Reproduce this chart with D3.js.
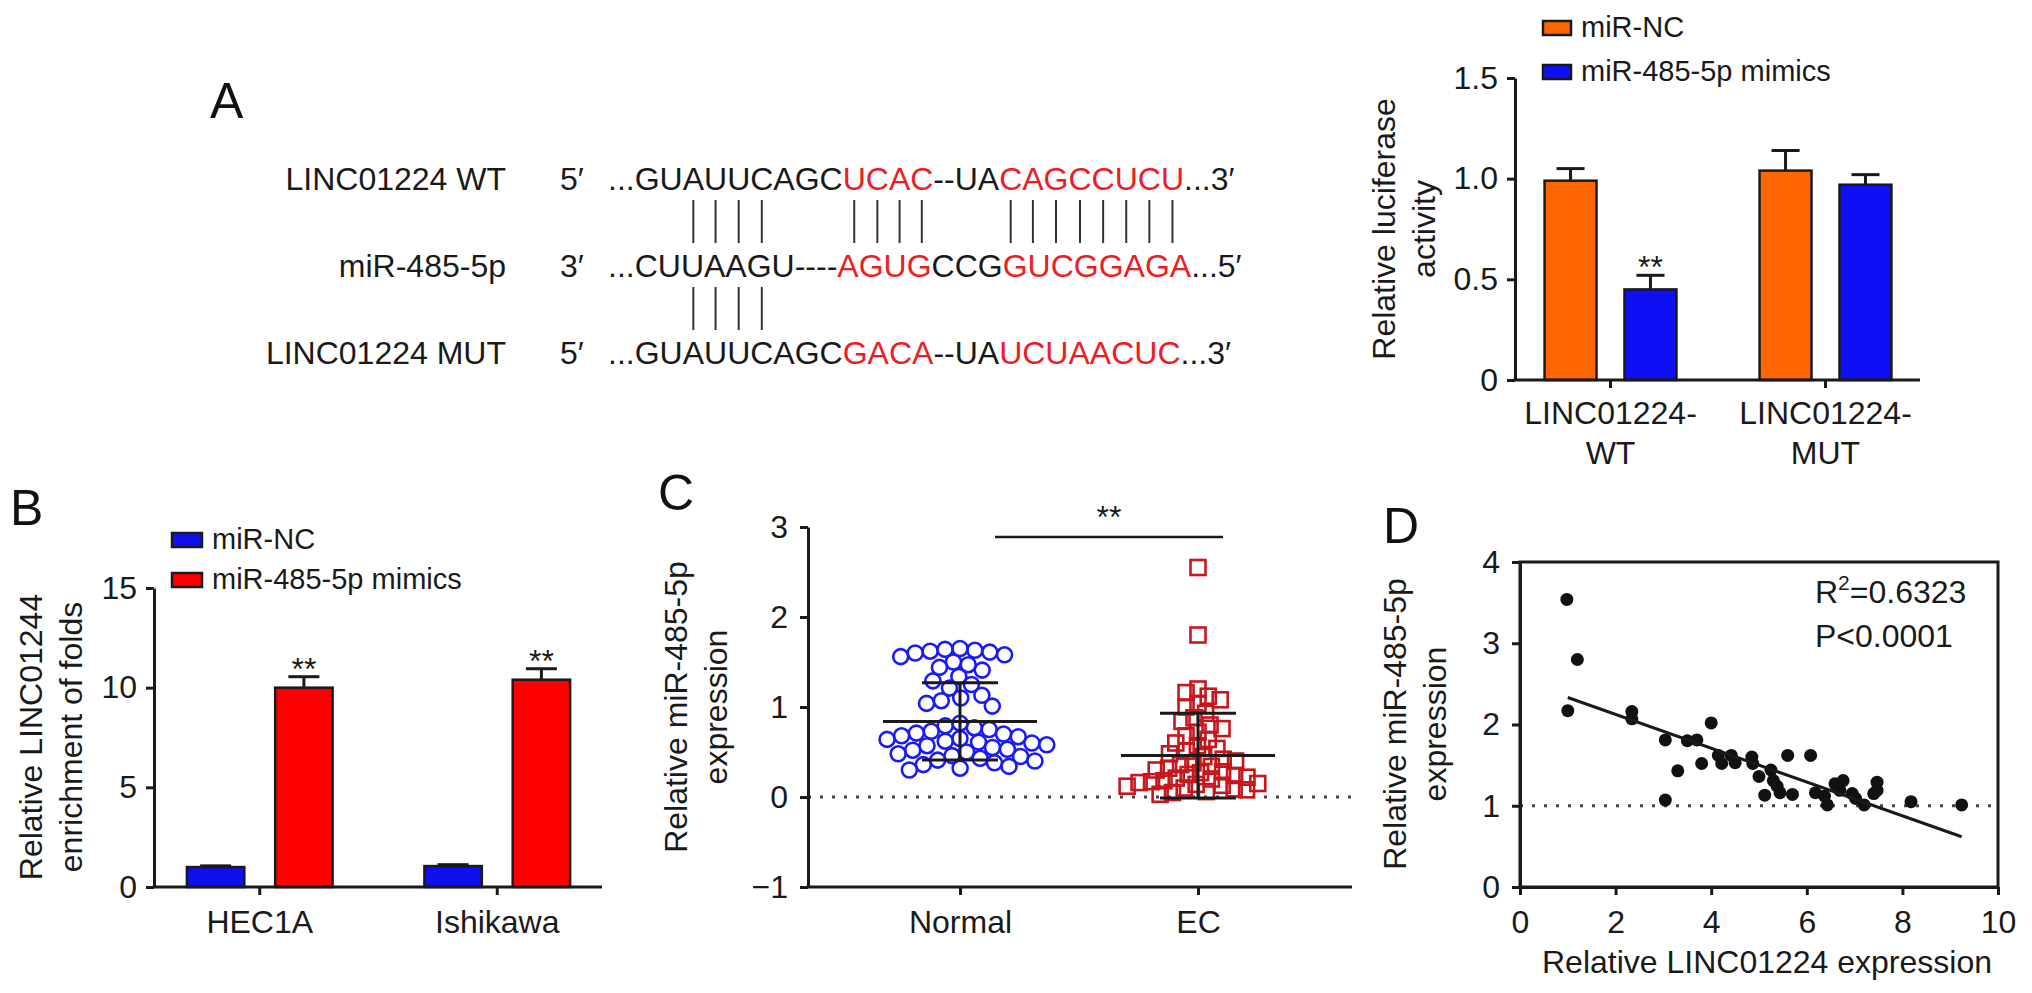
<!DOCTYPE html>
<html lang="en">
<head>
<meta charset="UTF-8" />
<title>LINC01224 / miR-485-5p</title>
<script src="https://cdn.jsdelivr.net/npm/d3@7"></script>
<style>
  body { margin: 0; background: #fff; }
  svg { display: block; font-family: "Liberation Sans", Arial, Helvetica, sans-serif; }
  .axis { font-family: "Liberation Sans", Arial, Helvetica, sans-serif; }
  .axis path, .axis line { stroke: #1a1a1a; stroke-width: 3; }
  .axis text { font-size: 32px; fill: #1a1a1a; }
  .txt { font-size: 32px; fill: #1a1a1a; }
  .leg { font-size: 29px; fill: #1a1a1a; }
  .panel { font-size: 50px; fill: #111; }
  .axline { stroke: #1a1a1a; stroke-width: 3; }
</style>
</head>
<body>
<svg id="fig" width="2032" height="993"></svg>
<script>
// ---------- data ----------
// A: sequence alignment
const seqLabels = ["LINC01224 WT", "miR-485-5p", "LINC01224 MUT"];
const seqEnds = ["5′", "3′", "5′"];
const seqParts = [
  [["...GUAUUCAGC", 0], ["UCAC", 1], ["--UA", 0], ["CAGCCUCU", 1], ["...3′", 0]],
  [["...CUUAAGU----", 0], ["AGUG", 1], ["CCG", 0], ["GUCGGAGA", 1], ["...5′", 0]],
  [["...GUAUUCAGC", 0], ["GACA", 1], ["--UA", 0], ["UCUAACUC", 1], ["...3′", 0]]
];
// character indices of row 1 that get a pairing bar
const pairsTop = [5, 6, 7, 8, 12, 13, 14, 15, 20, 21, 22, 23, 24, 25, 26, 27];
const pairsBottom = [5, 6, 7, 8];

// A: luciferase
const luciGroups = ["LINC01224-WT", "LINC01224-MUT"];
const luciSeries = ["miR-NC", "miR-485-5p mimics"];
const luciMean = [[0.99, 0.45], [1.04, 0.97]];
const luciErr = [[0.06, 0.07], [0.10, 0.05]];
const luciSig = [["", "**"], ["", ""]];
const luciTicks = [0, 0.5, 1.0, 1.5];

// B: RIP enrichment
const ripGroups = ["HEC1A", "Ishikawa"];
const ripSeries = ["miR-NC", "miR-485-5p mimics"];
const ripMean = [[1.0, 10.0], [1.05, 10.4]];
const ripErr = [[0.06, 0.55], [0.07, 0.55]];
const ripSig = [["", "**"], ["", "**"]];
const ripTicks = [0, 5, 10, 15];

// C: miR-485-5p expression
const exprGroups = ["Normal", "EC"];
const exprNormal = [1.65, 1.64, 1.63, 1.62, 1.61, 1.60, 1.58, 1.56,
  1.50, 1.47, 1.44, 1.41, 1.34, 1.29, 1.25, 1.21,
  1.13, 1.10, 1.07, 1.04, 1.01,
  0.82, 0.79, 0.77, 0.75, 0.73, 0.71, 0.70, 0.68, 0.67, 0.65, 0.64, 0.62, 0.61, 0.60,
  0.58, 0.57, 0.55, 0.53, 0.52, 0.50, 0.48, 0.46, 0.45, 0.43, 0.41, 0.40, 0.38, 0.36,
  0.34, 0.32, 0.30];
const exprEC = [2.55, 1.80, 1.20, 1.16, 1.12, 1.08, 1.04, 1.00,
  0.93, 0.88, 0.84, 0.80, 0.76, 0.72, 0.68, 0.64, 0.60, 0.57, 0.54, 0.51,
  0.48, 0.45, 0.42, 0.40, 0.38, 0.36, 0.34, 0.32, 0.30, 0.28, 0.27, 0.25,
  0.24, 0.22, 0.21, 0.20, 0.18, 0.17, 0.16, 0.15, 0.14, 0.13, 0.12, 0.10,
  0.09, 0.08, 0.06, 0.05, 0.03];
const exprMean = [0.84, 0.46];
const exprSD = [0.43, 0.47];
const exprTicks = [-1, 0, 1, 2, 3];

// D: correlation
const corrPoints = [
  [0.98, 3.54], [1.2, 2.8], [1.0, 2.17], [2.34, 2.16], [2.34, 2.07], [3.04, 1.81],
  [3.04, 1.07], [3.3, 1.43], [3.5, 1.8], [3.7, 1.81], [3.8, 1.52], [4.0, 2.02],
  [4.15, 1.62], [4.22, 1.52], [4.42, 1.62], [4.5, 1.53], [4.85, 1.6], [4.87, 1.52],
  [5.0, 1.36], [5.12, 1.13], [5.25, 1.44], [5.3, 1.31], [5.38, 1.24], [5.44, 1.16],
  [5.6, 1.62], [5.7, 1.14], [6.08, 1.62], [6.18, 1.16], [6.37, 1.12], [6.43, 1.01],
  [6.59, 1.27], [6.69, 1.19], [6.76, 1.31], [6.95, 1.15], [7.02, 1.09], [7.2, 1.01],
  [7.4, 1.15], [7.47, 1.29], [7.47, 1.19], [8.18, 1.05], [9.24, 1.01]
];
const corrFit = { intercept: 2.54, slope: -0.208, from: 1.0, to: 9.24 };
const corrXTicks = [0, 2, 4, 6, 8, 10];
const corrYTicks = [0, 1, 2, 3, 4];
const corrStats = ["0.6323", "P<0.0001"];

// ---------- drawing ----------
const svg = d3.select("#fig");
const RED = "#ee1c24";
const intFmt = d3.format("d");

function panelLetter(t, x, y) {
  svg.append("text").attr("class", "panel").attr("x", x).attr("y", y).text(t);
}

// rotated two-line axis title, first baseline at x0
function yTitle(lines, x0, cy) {
  const t = svg.append("text").attr("class", "txt")
    .attr("text-anchor", "middle")
    .attr("transform", `translate(${x0},${cy}) rotate(-90)`);
  lines.forEach((l, i) => t.append("tspan").attr("x", 0).attr("y", i * 40).text(l));
}

// ----- Panel A: sequences -----
panelLetter("A", 210, 118);
const rowY = [190, 277, 364];
const seqNodes = seqParts.map((parts, r) => {
  svg.append("text").attr("class", "txt").attr("text-anchor", "end")
    .attr("x", 506).attr("y", rowY[r]).text(seqLabels[r]);
  svg.append("text").attr("class", "txt").attr("x", 560).attr("y", rowY[r]).text(seqEnds[r]);
  const t = svg.append("text").attr("class", "txt").attr("x", 608).attr("y", rowY[r]);
  parts.forEach(([s, hi]) => t.append("tspan").attr("fill", hi ? RED : "#1a1a1a").text(s));
  return t.node();
});
function charCenter(node, i) {
  const b = node.getExtentOfChar(i);
  return b.x + b.width / 2;
}
pairsTop.forEach(i => {
  const cx = charCenter(seqNodes[0], i);
  svg.append("line").attr("x1", cx).attr("x2", cx).attr("y1", 200).attr("y2", 243)
    .attr("stroke", "#333").attr("stroke-width", 2);
});
pairsBottom.forEach(i => {
  const cx = charCenter(seqNodes[0], i);
  svg.append("line").attr("x1", cx).attr("x2", cx).attr("y1", 287).attr("y2", 330)
    .attr("stroke", "#333").attr("stroke-width", 2);
});

// ----- grouped bar chart helper (A right, B) -----
function barPanel(o) {
  const g = svg.append("g");
  const y = d3.scaleLinear().domain([0, d3.max(o.ticks)]).range([o.yRange[0], o.yRange[1]]);
  const x0 = d3.scaleBand().domain(o.groups).range(o.band);
  const x1 = d3.scaleBand().domain(o.series).range([0, x0.bandwidth()])
    .paddingInner(0.35).paddingOuter(0.52);
  const bw = x1.bandwidth();

  o.groups.forEach((gr, i) => {
    o.series.forEach((s, j) => {
      const bx = x0(gr) + x1(s), cx = bx + bw / 2;
      const m = o.mean[i][j], e = o.err[i][j];
      g.append("line").attr("x1", cx).attr("x2", cx).attr("y1", y(m)).attr("y2", y(m + e))
        .attr("stroke", "#1a1a1a").attr("stroke-width", 3);
      g.append("line").attr("x1", cx - bw * 0.27).attr("x2", cx + bw * 0.27)
        .attr("y1", y(m + e)).attr("y2", y(m + e))
        .attr("stroke", "#1a1a1a").attr("stroke-width", 3);
      g.append("rect").attr("x", bx).attr("y", y(m)).attr("width", bw).attr("height", y(0) - y(m))
        .attr("fill", o.colors[j]).attr("stroke", "#1a1a1a").attr("stroke-width", 2.5);
      if (o.sig[i][j]) {
        g.append("text").attr("class", "txt").attr("text-anchor", "middle")
          .attr("x", cx).attr("y", y(m + e) + 3).text(o.sig[i][j]);
      }
    });
  });

  g.append("g").attr("class", "axis").attr("transform", `translate(${o.xLine[0]},0)`)
    .call(d3.axisLeft(y).tickValues(o.ticks).tickFormat(o.fmt)
      .tickSize(8).tickSizeOuter(0).tickPadding(9));
  const xa = g.append("g").attr("class", "axis").attr("transform", `translate(0,${y(0)})`)
    .call(d3.axisBottom(x0).tickSize(8).tickSizeOuter(0).tickPadding(o.xPad));
  xa.select(".domain").remove();
  g.append("line").attr("class", "axline")
    .attr("x1", o.xLine[0] - 1.5).attr("x2", o.xLine[1]).attr("y1", y(0)).attr("y2", y(0));
  if (o.splitLabels) {
    xa.selectAll(".tick text").each(function (d) {
      const t = d3.select(this).text("");
      d.split(/(?<=-)/).forEach((p, k) =>
        t.append("tspan").attr("x", 0).attr("dy", k ? "1.25em" : null).text(p));
    });
  }

  // legend
  o.series.forEach((s, j) => {
    const ly = o.legend.y + j * o.legend.step;
    g.append("rect").attr("x", o.legend.x).attr("y", ly - o.legend.h)
      .attr("width", o.legend.w).attr("height", o.legend.h)
      .attr("fill", o.colors[j]).attr("stroke", "#1a1a1a").attr("stroke-width", 2.5);
    g.append("text").attr("class", "leg").attr("x", o.legend.x + o.legend.w + 10)
      .attr("y", ly + 2).text(s);
  });
}

barPanel({
  groups: luciGroups, series: luciSeries, mean: luciMean, err: luciErr, sig: luciSig,
  ticks: luciTicks, fmt: d => d === 0 ? "0" : d3.format(".1f")(d),
  colors: ["#ff6600", "#0f0ff5"],
  yRange: [380, 78], band: [1503, 1933], xLine: [1515, 1920], xPad: 13, splitLabels: true,
  legend: { x: 1543, y: 35, step: 44, w: 28, h: 14 }
});
yTitle(["Relative luciferase", "activity"], 1395, 229);

// ----- Panel B -----
panelLetter("B", 10, 525);
barPanel({
  groups: ripGroups, series: ripSeries, mean: ripMean, err: ripErr, sig: ripSig,
  ticks: ripTicks, fmt: intFmt,
  colors: ["#1010ee", "#ff0000"],
  yRange: [887, 588], band: [141, 616], xLine: [154, 602], xPad: 15, splitLabels: false,
  legend: { x: 172, y: 547, step: 40, w: 30, h: 14 }
});
yTitle(["Relative LINC01244", "enrichment of folds"], 42, 737);

// ----- Panel C -----
panelLetter("C", 658, 510);
{
  const g = svg.append("g");
  const y = d3.scaleLinear().domain([-1, 3]).range([887, 527]);
  const x = d3.scalePoint().domain(exprGroups).range([960, 1198]);
  const axX = [808, 1352];

  g.append("line").attr("x1", axX[0]).attr("x2", axX[1]).attr("y1", y(0)).attr("y2", y(0))
    .attr("stroke", "#444").attr("stroke-width", 3).attr("stroke-dasharray", "3 9");

  // simple beeswarm: each point takes the nearest free horizontal offset
  function swarm(values, minDist) {
    const pts = values.map(v => ({ v, py: y(v), dx: 0 })).sort((a, b) => a.py - b.py);
    const placed = [];
    pts.forEach(p => {
      const blocked = [];
      placed.forEach(q => {
        const dy = Math.abs(q.py - p.py);
        if (dy < minDist) {
          const w = Math.sqrt(minDist * minDist - dy * dy);
          blocked.push([q.dx - w, q.dx + w]);
        }
      });
      const cands = [0];
      blocked.forEach(b => cands.push(b[0], b[1]));
      cands.sort((a, b) => Math.abs(a) - Math.abs(b));
      p.dx = cands.find(c => blocked.every(b => c <= b[0] + 1e-6 || c >= b[1] - 1e-6));
      placed.push(p);
    });
    return pts;
  }

  swarm(exprNormal, 15).forEach(p => {
    g.append("circle").attr("cx", x("Normal") + p.dx).attr("cy", p.py).attr("r", 7.5)
      .attr("fill", "none").attr("stroke", "#1a1aff").attr("stroke-width", 2.6);
  });
  swarm(exprEC, 12.5).forEach(p => {
    g.append("rect").attr("x", x("EC") + p.dx - 7.5).attr("y", p.py - 7.5)
      .attr("width", 15).attr("height", 15)
      .attr("fill", "none").attr("stroke", "#c8161d").attr("stroke-width", 2.6);
  });

  exprGroups.forEach((gr, i) => {
    const cx = x(gr), m = exprMean[i], s = exprSD[i];
    const ln = (x1, x2, y1, y2) => g.append("line").attr("x1", x1).attr("x2", x2)
      .attr("y1", y1).attr("y2", y2).attr("stroke", "#1a1a1a").attr("stroke-width", 3);
    ln(cx - 77, cx + 77, y(m), y(m));
    ln(cx, cx, y(m - s), y(m + s));
    ln(cx - 38, cx + 38, y(m + s), y(m + s));
    ln(cx - 38, cx + 38, y(m - s), y(m - s));
  });

  g.append("g").attr("class", "axis").attr("transform", `translate(${axX[0]},0)`)
    .call(d3.axisLeft(y).tickValues(exprTicks).tickFormat(intFmt)
      .tickSize(8).tickSizeOuter(0).tickPadding(12));
  const xa = g.append("g").attr("class", "axis").attr("transform", `translate(0,${y(-1)})`)
    .call(d3.axisBottom(x).tickSize(8).tickSizeOuter(0).tickPadding(15));
  xa.select(".domain").remove();
  g.append("line").attr("class", "axline").attr("x1", axX[0] - 1.5).attr("x2", axX[1])
    .attr("y1", y(-1)).attr("y2", y(-1));

  // significance bracket
  g.append("line").attr("x1", 995).attr("x2", 1223).attr("y1", 537).attr("y2", 537)
    .attr("stroke", "#1a1a1a").attr("stroke-width", 2.5);
  g.append("text").attr("class", "txt").attr("text-anchor", "middle")
    .attr("x", 1109).attr("y", 528).text("**");
}
yTitle(["Relative miR-485-5p", "expression"], 687, 707);

// ----- Panel D -----
panelLetter("D", 1383, 543);
{
  const g = svg.append("g");
  const x = d3.scaleLinear().domain([0, 10]).range([1520, 1998]);
  const y = d3.scaleLinear().domain([0, 4]).range([887, 562]);

  g.append("rect").attr("x", x(0)).attr("y", y(4)).attr("width", x(10) - x(0))
    .attr("height", y(0) - y(4)).attr("fill", "none").attr("stroke", "#1a1a1a").attr("stroke-width", 3);
  g.append("line").attr("x1", x(0)).attr("x2", x(10)).attr("y1", y(1)).attr("y2", y(1))
    .attr("stroke", "#444").attr("stroke-width", 3).attr("stroke-dasharray", "3 9");

  g.selectAll("circle.pt").data(corrPoints).enter().append("circle")
    .attr("class", "pt").attr("cx", d => x(d[0])).attr("cy", d => y(d[1])).attr("r", 6.5)
    .attr("fill", "#111");

  const fx = [corrFit.from, corrFit.to];
  g.append("line")
    .attr("x1", x(fx[0])).attr("y1", y(corrFit.intercept + corrFit.slope * fx[0]))
    .attr("x2", x(fx[1])).attr("y2", y(corrFit.intercept + corrFit.slope * fx[1]))
    .attr("stroke", "#1a1a1a").attr("stroke-width", 3);

  g.append("g").attr("class", "axis").attr("transform", `translate(${x(0)},0)`)
    .call(d3.axisLeft(y).tickValues(corrYTicks).tickFormat(intFmt)
      .tickSize(8).tickSizeOuter(0).tickPadding(12));
  g.append("g").attr("class", "axis").attr("transform", `translate(0,${y(0)})`)
    .call(d3.axisBottom(x).tickValues(corrXTicks).tickFormat(intFmt)
      .tickSize(8).tickSizeOuter(0).tickPadding(15));

  const r2 = g.append("text").attr("class", "txt").attr("x", 1815).attr("y", 603);
  r2.append("tspan").text("R");
  r2.append("tspan").attr("dy", -13).attr("font-size", 21).text("2");
  r2.append("tspan").attr("dy", 13).text("=" + corrStats[0]);
  g.append("text").attr("class", "txt").attr("x", 1815).attr("y", 647).text(corrStats[1]);

  g.append("text").attr("class", "txt").attr("text-anchor", "middle")
    .attr("x", (x(0) + x(10)) / 2 + 8).attr("y", 973).text("Relative LINC01224 expression");
}
yTitle(["Relative miR-485-5p", "expression"], 1406, 724);
</script>
</body>
</html>
